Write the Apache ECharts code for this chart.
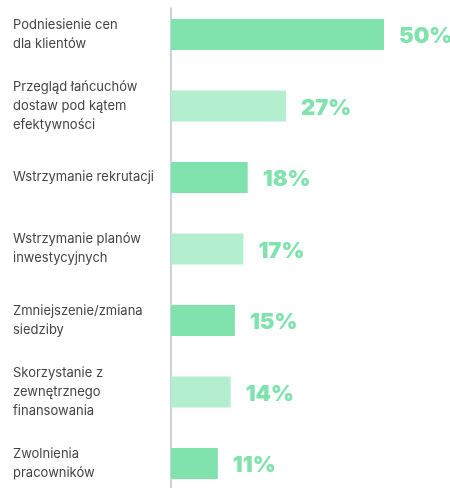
<!DOCTYPE html>
<html>
<head>
<meta charset="utf-8">
<style>
  html, body { margin: 0; padding: 0; background: #fff; }
  #chart { width: 450px; height: 488px; }
</style>
<script src="https://cdn.jsdelivr.net/npm/echarts@6/dist/echarts.min.js"></script>
</head>
<body>
<div id="chart"></div>
<script>
// dane
const categories = [
  'Podniesienie cen\ndla klientów',
  'Przegląd łańcuchów\ndostaw pod kątem\nefektywności',
  'Wstrzymanie rekrutacji',
  'Wstrzymanie planów\ninwestycyjnych',
  'Zmniejszenie/zmiana\nsiedziby',
  'Skorzystanie z\nzewnętrznego\nfinansowania',
  'Zwolnienia\npracowników'
];
const values = [50, 27, 18, 17, 15, 14, 11];

const darkGreen = '#80e2ad';
const lightGreen = '#b3eecf';

const chart = echarts.init(document.getElementById('chart'), null, { renderer: 'canvas' });

const option = {
  backgroundColor: '#fff',
  animation: false,
  grid: [
    { left: 171, width: 255.6, top: -1.25, height: 500.5, outerBoundsMode: 'none', containLabel: false },
    // tylko pionowa linia osi
    { left: 171, width: 10, top: 8, height: 490, outerBoundsMode: 'none', containLabel: false }
  ],
  xAxis: [
    { gridIndex: 0, type: 'value', min: 0, max: 60, show: false },
    { gridIndex: 1, type: 'value', min: 0, max: 1, show: false }
  ],
  yAxis: [
    {
      gridIndex: 0,
      type: 'category',
      inverse: true,
      data: categories,
      axisLine: { show: false },
      axisTick: { show: false },
      axisLabel: {
        align: 'left',
        margin: 158,
        fontSize: 13,
        lineHeight: 19,
        color: '#444444',
        fontFamily: 'Inter'
      }
    },
    {
      gridIndex: 1,
      type: 'value',
      min: 0,
      max: 1,
      axisLine: { show: true, lineStyle: { color: '#bac3cf', width: 1.5 } },
      axisTick: { show: false },
      axisLabel: { show: false },
      splitLine: { show: false }
    }
  ],
  series: [
    {
      type: 'bar',
      xAxisIndex: 0,
      yAxisIndex: 0,
      data: values,
      barWidth: 31,
      itemStyle: {
        color: function(p) {
          return p.dataIndex % 2 === 0 ? darkGreen : lightGreen;
        }
      },
      label: {
        show: true,
        position: 'right',
        distance: 15,
        offset: [0, 2],
        formatter: '{c}%',
        fontFamily: 'Inter',
        fontWeight: 900,
        fontSize: 22,
        color: function(p) {
          return p.dataIndex % 2 === 0 ? darkGreen : lightGreen;
        }
      }
    }
  ]
};

chart.setOption(option);
</script>
</body>
</html>
